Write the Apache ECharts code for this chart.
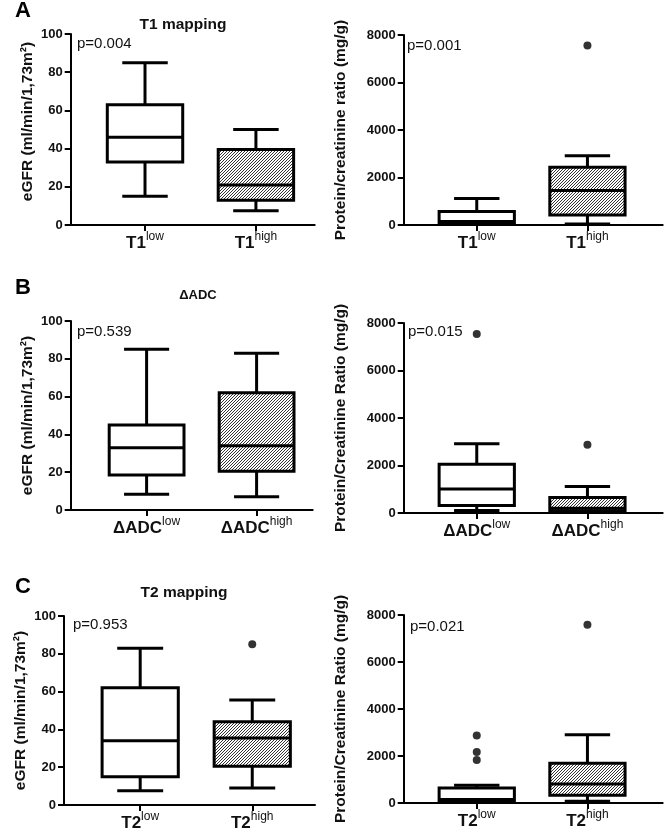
<!DOCTYPE html>
<html><head><meta charset="utf-8">
<script src="https://cdn.jsdelivr.net/npm/echarts@6/dist/echarts.min.js"></script>
<style>html,body{margin:0;padding:0;background:#fff}#c{width:666px;height:833px}</style>
</head><body><div id="c"></div>
<script>
// ---------------- DATA ----------------
const panelLetters = ['A', 'B', 'C'];
const panelTitles = ['T1 mapping', 'ΔADC', 'T2 mapping'];
const groupPrefixes = ['T1', 'ΔADC', 'T2'];
const groupSuffixes = ['low', 'high'];
const pValuesEGFR = ['p=0.004', 'p=0.539', 'p=0.953'];
const pValuesPCR = ['p=0.001', 'p=0.015', 'p=0.021'];
const yNameEGFR = 'eGFR (ml/min/1,73m²)';
const yNamesPCR = ['Protein/creatinine ratio (mg/g)', 'Protein/Creatinine Ratio (mg/g)', 'Protein/Creatinine Ratio (mg/g)'];
const egfrTicks = [0, 20, 40, 60, 80, 100];
const pcrTicks = [0, 2000, 4000, 6000, 8000];

// box stats: [lower whisker, Q1, median, Q3, upper whisker]
const egfrT1Low  = [15, 33, 46, 63, 85];
const egfrT1High = [7.5, 13, 21, 39.5, 50];
const pcrT1Low   = [40, 80, 150, 570, 1120];
const pcrT1High  = [40, 420, 1450, 2430, 2920];
const pcrT1HighOut = [7560];

const egfrAdcLow  = [8.3, 18.5, 33, 45, 85];
const egfrAdcHigh = [7, 20.5, 34, 62, 83];
const pcrAdcLow   = [110, 320, 1010, 2050, 2920];
const pcrAdcLowOut = [7540];
const pcrAdcHigh  = [40, 100, 200, 650, 1120];
const pcrAdcHighOut = [2870];

const egfrT2Low  = [7.5, 15, 34, 62, 83];
const egfrT2High = [9, 20.5, 35.5, 44, 55.5];
const egfrT2HighOut = [85];
const pcrT2Low   = [30, 80, 150, 640, 760];
const pcrT2LowOut = [2870, 2170, 1830];
const pcrT2High  = [70, 330, 810, 1690, 2900];
const pcrT2HighOut = [7580];

// ---------------- BUILD ----------------
const FONT = '"Liberation Sans", Arial, Helvetica, sans-serif';
const hatch = document.createElement('canvas');
hatch.width = 3; hatch.height = 3;
(function () {
  const g = hatch.getContext('2d');
  g.fillStyle = '#fff'; g.fillRect(0, 0, 3, 3);
  g.strokeStyle = '#333'; g.lineWidth = 1;
  g.beginPath();
  g.moveTo(-1, 4); g.lineTo(4, -1);
  g.moveTo(-1, 1); g.lineTo(1, -1);
  g.moveTo(2, 4); g.lineTo(4, 2);
  g.stroke();
})();

const BOX_W = 0.68, CAP_W = 0.41;
function boxRender(params, api) {
  const x = api.value(0);
  const lo = api.coord([x, api.value(1)]);
  const q1 = api.coord([x, api.value(2)]);
  const md = api.coord([x, api.value(3)]);
  const q3 = api.coord([x, api.value(4)]);
  const hi = api.coord([x, api.value(5)]);
  const filled = api.value(6);
  const bw = api.size([BOX_W, 0])[0];
  const cw = api.size([CAP_W, 0])[0];
  const cx = lo[0];
  const ls = { stroke: '#000', lineWidth: 3 };
  return {
    type: 'group',
    children: [
      { type: 'line', shape: { x1: cx, y1: lo[1], x2: cx, y2: q1[1] }, style: ls },
      { type: 'line', shape: { x1: cx, y1: q3[1], x2: cx, y2: hi[1] }, style: ls },
      { type: 'line', shape: { x1: cx - cw / 2, y1: lo[1], x2: cx + cw / 2, y2: lo[1] }, style: ls },
      { type: 'line', shape: { x1: cx - cw / 2, y1: hi[1], x2: cx + cw / 2, y2: hi[1] }, style: ls },
      { type: 'rect', shape: { x: cx - bw / 2, y: q3[1], width: bw, height: q1[1] - q3[1] },
        style: { fill: filled ? { image: hatch, repeat: 'repeat' } : '#fff', stroke: '#000', lineWidth: 3 } },
      { type: 'line', shape: { x1: cx - bw / 2, y1: md[1], x2: cx + bw / 2, y2: md[1] }, style: ls }
    ]
  };
}

const panels = [
  { grid: { left: 70.7, top: 34, width: 244, height: 191 }, xr: [-0.67, 1.53], kind: 'egfr', row: 0, boxes: [egfrT1Low, egfrT1High], outs: [[], []], namePad: [0, 0, 0, 16] },
  { grid: { left: 403.7, top: 35, width: 259, height: 190 }, xr: [-0.66, 1.68], kind: 'pcr', row: 0, boxes: [pcrT1Low, pcrT1High], outs: [[], pcrT1HighOut] },
  { grid: { left: 70.7, top: 321, width: 242, height: 189 }, xr: [-0.69, 1.51], kind: 'egfr', row: 1, boxes: [egfrAdcLow, egfrAdcHigh], outs: [[], []] },
  { grid: { left: 403.7, top: 323, width: 259, height: 190 }, xr: [-0.66, 1.68], kind: 'pcr', row: 1, boxes: [pcrAdcLow, pcrAdcHigh], outs: [pcrAdcLowOut, pcrAdcHighOut] },
  { grid: { left: 64, top: 616, width: 251, height: 189 }, xr: [-0.68, 1.56], kind: 'egfr', row: 2, boxes: [egfrT2Low, egfrT2High], outs: [[], egfrT2HighOut] },
  { grid: { left: 403.7, top: 615, width: 259, height: 188 }, xr: [-0.66, 1.68], kind: 'pcr', row: 2, boxes: [pcrT2Low, pcrT2High], outs: [pcrT2LowOut, pcrT2HighOut] }
];

const grids = [], xAxes = [], yAxes = [], series = [], graphics = [];
panels.forEach((p, i) => {
  grids.push(p.grid);
  const prefix = groupPrefixes[p.row];
  xAxes.push({
    gridIndex: i, type: 'value', min: p.xr[0], max: p.xr[1],
    axisLine: { onZero: false, lineStyle: { color: '#000', width: 2 } },
    axisTick: { customValues: [0, 1], length: 6, lineStyle: { color: '#000', width: 2 } },
    splitLine: { show: false },
    axisLabel: {
      customValues: [0, 1], margin: 6,
      formatter: v => '{m|' + prefix + '}{s|' + groupSuffixes[Math.round(v)] + '}',
      rich: {
        m: { fontFamily: FONT, fontWeight: 'bold', fontSize: 17, color: '#111', lineHeight: 21, verticalAlign: 'bottom' },
        s: { fontFamily: FONT, fontSize: 12, color: '#111', lineHeight: 21, verticalAlign: 'top' }
      }
    }
  });
  const isE = p.kind === 'egfr';
  const ticks = isE ? egfrTicks : pcrTicks;
  yAxes.push({
    gridIndex: i, type: 'value', min: ticks[0], max: ticks[ticks.length - 1], interval: ticks[1] - ticks[0],
    name: isE ? yNameEGFR : yNamesPCR[p.row], nameLocation: 'middle', nameGap: isE ? 35 : 55,
    nameTextStyle: { fontFamily: FONT, fontWeight: 'bold', fontSize: 15.5, color: '#111', padding: p.namePad || 0 },
    axisLine: { show: true, onZero: false, lineStyle: { color: '#000', width: 2 } },
    axisTick: { show: true, length: 6, lineStyle: { color: '#000', width: 2 } },
    splitLine: { show: false },
    axisLabel: { fontFamily: FONT, fontWeight: 'bold', fontSize: 13, color: '#111', margin: 8, formatter: v => String(v) }
  });
  series.push({
    type: 'custom', xAxisIndex: i, yAxisIndex: i, renderItem: boxRender, silent: true,
    data: p.boxes.map((b, k) => [k, b[0], b[1], b[2], b[3], b[4], k])
  });
  const outData = [];
  p.outs.forEach((arr, k) => arr.forEach(v => outData.push([k, v])));
  series.push({
    type: 'scatter', xAxisIndex: i, yAxisIndex: i, symbolSize: 8, silent: true,
    itemStyle: { color: '#000' }, data: outData
  });
});

const pPos = [[77, 44], [407, 46], [77, 332], [408, 332], [73, 625], [410, 627]];
panels.forEach((p, i) => {
  graphics.push({ type: 'text', x: pPos[i][0], y: pPos[i][1],
    style: { text: (p.kind === 'egfr' ? pValuesEGFR : pValuesPCR)[p.row], fontFamily: FONT, fontSize: 15, fill: '#111', verticalAlign: 'middle', align: 'left' } });
});
const letterPos = [[15, 11], [15, 288], [15, 587]];
const titlePos = [[183, 25], [198, 295], [184, 593]];
panelLetters.forEach((L, r) => {
  graphics.push({ type: 'text', x: letterPos[r][0], y: letterPos[r][1],
    style: { text: L, fontFamily: FONT, fontWeight: 'bold', fontSize: 22, fill: '#000', verticalAlign: 'middle', align: 'left' } });
  graphics.push({ type: 'text', x: titlePos[r][0], y: titlePos[r][1],
    style: { text: panelTitles[r], fontFamily: FONT, fontWeight: 'bold', fontSize: r === 1 ? 13 : 15.5, fill: '#111', verticalAlign: 'middle', align: 'center' } });
});

const chart = echarts.init(document.getElementById('c'), null, { renderer: 'canvas' });
chart.setOption({
  backgroundColor: '#fff', animation: false,
  grid: grids, xAxis: xAxes, yAxis: yAxes, series: series, graphic: graphics
});
</script></body></html>
